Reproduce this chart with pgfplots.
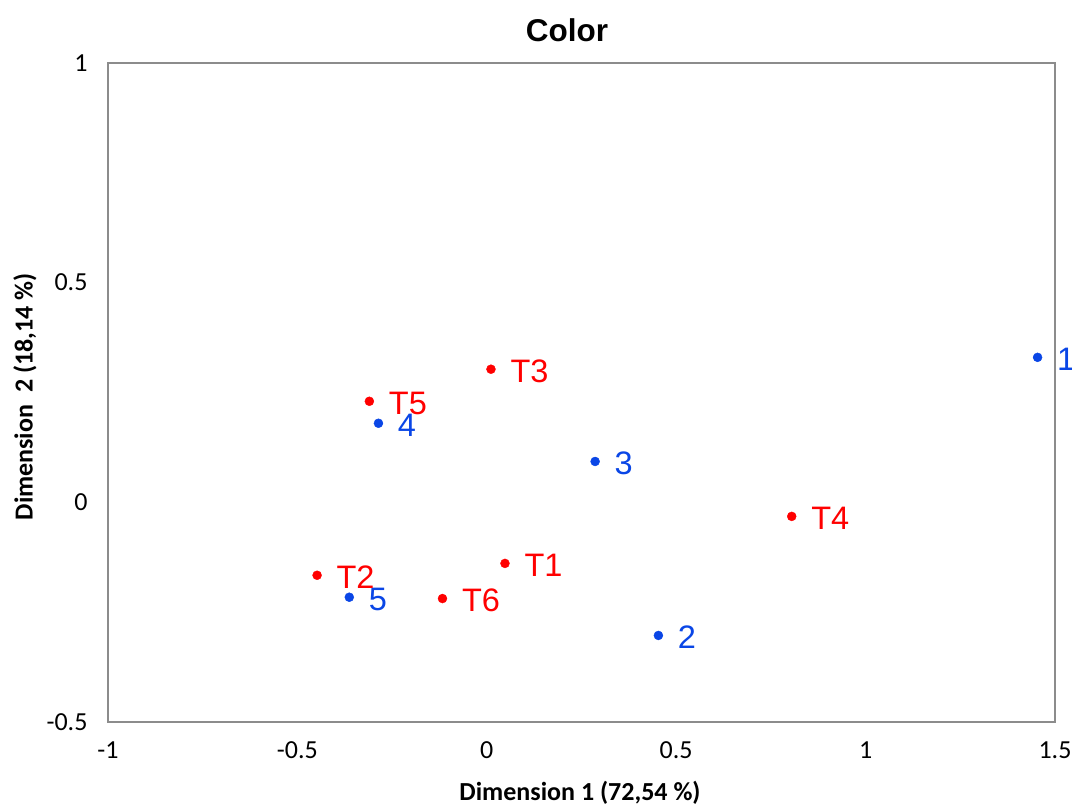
\documentclass[border=0pt]{standalone}
\usepackage{fontspec}
\setmainfont{Carlito}
\newfontfamily\arial{Liberation Sans}
\usepackage{pgfplots}
\pgfplotsset{compat=1.18}
\definecolor{ptblue}{RGB}{10,70,230}
\definecolor{ptred}{RGB}{255,0,0}
\definecolor{framegray}{RGB}{140,140,140}
\begin{document}
\begin{tikzpicture}
\useasboundingbox (-108pt,-84pt) rectangle (964pt,722pt);
\begin{axis}[
  scale only axis,
  width=947pt, height=659pt,
  xmin=-1, xmax=1.5, ymin=-0.5, ymax=1,
  xtick={-1,-0.5,0,0.5,1,1.5},
  xticklabels={-1,-0.5,0,0.5,1,1.5},
  ytick={-0.5,0,0.5,1},
  yticklabels={-0.5,0,0.5,1},
  major tick length=0pt,
  axis line style={framegray, line width=1.8pt},
  tick label style={font=\fontsize{26}{28}\selectfont},
  xticklabel style={yshift=-16pt},
  yticklabel style={xshift=-17pt},
  clip=false,
  nodes near coords,
  point meta=explicit symbolic,
  every node near coord/.append style={anchor=west, xshift=16pt, yshift=-2pt, font=\arial\fontsize{32.5}{34}\selectfont},
]
\addplot[only marks, mark=*, mark size=4.5pt, ptblue, every node near coord/.append style={text=ptblue}] table[meta=label] {
x y label
1.454 0.330 1
0.453 -0.303 2
0.286 0.093 3
-0.286 0.180 4
-0.363 -0.216 5
};
\addplot[only marks, mark=*, mark size=4.5pt, ptred, every node near coord/.append style={text=ptred}] table[meta=label] {
x y label
0.048 -0.139 T1
-0.448 -0.166 T2
0.011 0.303 T3
0.805 -0.032 T4
-0.310 0.230 T5
-0.117 -0.219 T6
};
\node[font=\arial\bfseries\fontsize{31.5}{34}\selectfont, anchor=center] at ([yshift=33pt]axis cs:0.212,1) {Color};
\node[font=\bfseries\fontsize{26}{28}\selectfont, anchor=center] at ([yshift=-71pt]axis cs:0.246,-0.5) {Dimension 1 (72,54 \%)};
\node[font=\bfseries\fontsize{26}{28}\selectfont, anchor=center, rotate=90] at ([xshift=-83pt]axis cs:-1,0.24) {Dimension\ \ 2 (18,14 \%)};
\end{axis}
\end{tikzpicture}
\end{document}
